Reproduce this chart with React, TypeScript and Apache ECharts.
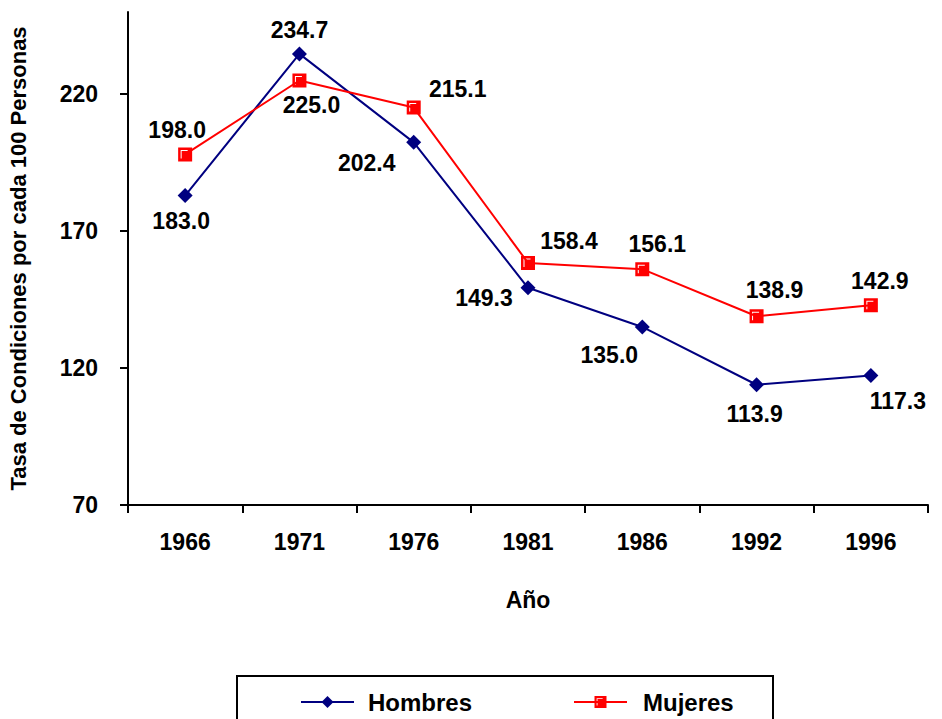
import React, { useEffect, useRef } from "react";
import * as echarts from "echarts";

const years = ["1966", "1971", "1976", "1981", "1986", "1992", "1996"];
const hombres = [183.0, 234.7, 202.4, 149.3, 135.0, 113.9, 117.3];
const mujeres = [198.0, 225.0, 215.1, 158.4, 156.1, 138.9, 142.9];
const yTicks = [70, 120, 170, 220];

// label offsets (layout only)
const hOffsets = [[-4, 25], [0, -24], [-47, 21], [-44, 10], [-33, 28], [-2, 29], [27, 26]];
const mOffsets = [[-8, -24], [12, 25], [44, -19], [41, -22], [15, -25], [18, -26], [9, -24]];

const FONT = "'Liberation Sans', Arial, Helvetica, sans-serif";
const SQUARE = "path://M0 0 H14 V14 H0 Z M2.5 2.5 V11 H3.5 V3.5 H9.5 V2.5 Z";

export default function App() {
  const ref = useRef<HTMLDivElement>(null);
  useEffect(() => {
    if (!ref.current) return;
    const chart = echarts.init(ref.current, null, { renderer: "svg" });
    const labelBase = {
      show: true,
      position: "inside",
      color: "#000",
      fontSize: 23,
      fontWeight: "bold",
      fontFamily: FONT,
      formatter: (p: any) => Number(p.value).toFixed(1),
    };
    chart.setOption({
      animation: false,
      backgroundColor: "#fff",
      grid: { left: 128, right: 14, top: 12, bottom: 214, containLabel: false, outerBoundsMode: "none" },
      xAxis: {
        type: "category",
        data: years,
        boundaryGap: true,
        name: "Año",
        nameLocation: "middle",
        nameGap: 83,
        nameTextStyle: { color: "#000", fontSize: 23, fontWeight: "bold", fontFamily: FONT },
        axisLine: { lineStyle: { color: "#000", width: 2 } },
        axisTick: { show: true, length: 8, lineStyle: { color: "#000", width: 2 } },
        axisLabel: { color: "#000", fontSize: 23, fontWeight: "bold", fontFamily: FONT, margin: 25 },
        splitLine: { show: false },
      },
      yAxis: {
        type: "value",
        min: 70,
        max: 250,
        interval: 50,
        name: "Tasa de Condiciones por cada 100 Personas",
        nameLocation: "middle",
        nameGap: 99,
        nameRotate: 90,
        nameTextStyle: { color: "#000", fontSize: 22, fontWeight: "bold", fontFamily: FONT },
        axisLine: { show: true, lineStyle: { color: "#000", width: 2 } },
        axisTick: { show: true, length: 8, lineStyle: { color: "#000", width: 2 }, customValues: yTicks },
        axisLabel: { color: "#000", fontSize: 23, fontWeight: "bold", fontFamily: FONT, margin: 30, customValues: yTicks },
        splitLine: { show: false },
      },
      legend: [
        {
          data: ["Hombres"],
          left: 295,
          top: 685,
          itemWidth: 53,
          itemHeight: 15,
          textStyle: { color: "#000", fontSize: 24, fontWeight: "bold", fontFamily: FONT, padding: [0, 0, 0, 9] },
        },
        {
          data: ["Mujeres"],
          left: 568,
          top: 685,
          itemWidth: 53,
          itemHeight: 15,
          textStyle: { color: "#000", fontSize: 24, fontWeight: "bold", fontFamily: FONT, padding: [0, 0, 0, 11] },
        },
      ],
      graphic: [
        {
          type: "rect",
          shape: { x: 237, y: 676, width: 536, height: 80 },
          style: { fill: "none", stroke: "#000", lineWidth: 2 },
          silent: true,
        },
      ],
      series: [
        {
          name: "Hombres",
          type: "line",
          data: hombres.map((v, i) => ({ value: v, label: { offset: hOffsets[i] } })),
          symbol: "diamond",
          symbolSize: 15,
          itemStyle: { color: "#000080" },
          lineStyle: { color: "#000080", width: 2 },
          label: labelBase,
          z: 3,
        },
        {
          name: "Mujeres",
          type: "line",
          data: mujeres.map((v, i) => ({ value: v, label: { offset: mOffsets[i] } })),
          symbol: SQUARE,
          symbolSize: 14,
          symbolKeepAspect: true,
          itemStyle: { color: "#ff0000" },
          lineStyle: { color: "#ff0000", width: 2 },
          label: labelBase,
          z: 4,
        },
      ],
    });
    return () => chart.dispose();
  }, []);
  return (
    <div
      ref={ref}
      style={{ position: "fixed", left: 0, top: 0, width: 942, height: 719, background: "#fff" }}
    />
  );
}
